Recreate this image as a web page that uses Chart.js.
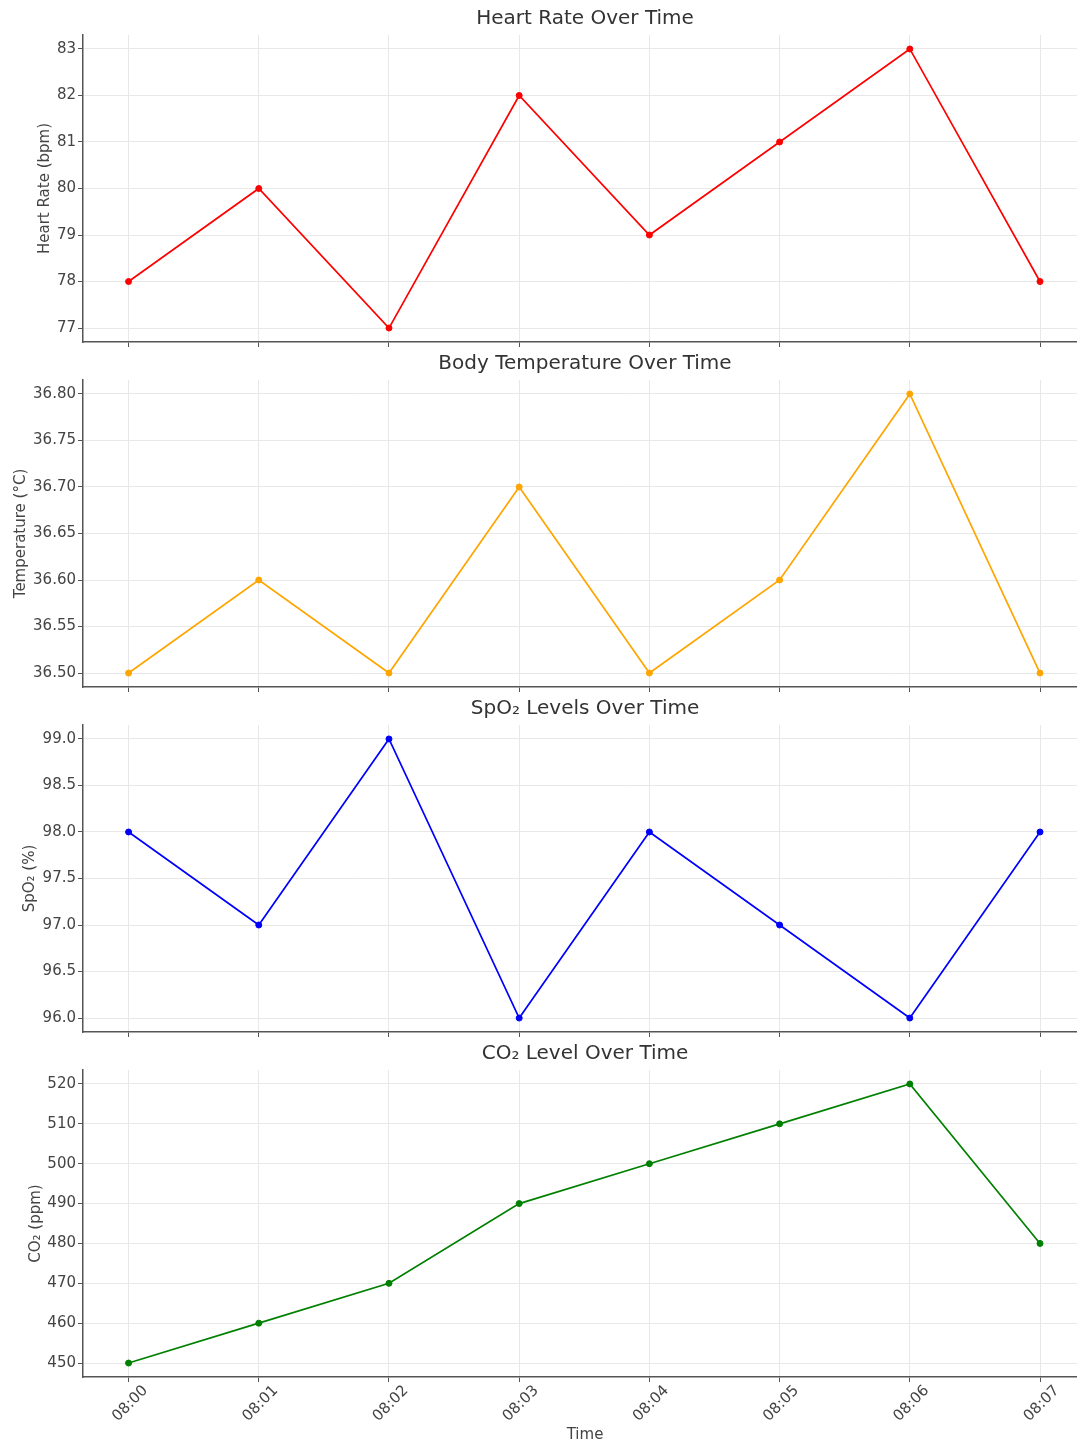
<!DOCTYPE html>
<html>
<head>
<meta charset="utf-8">
<title>Vitals Over Time</title>
<script src="https://cdn.jsdelivr.net/npm/chart.js@4.4.1/dist/chart.umd.min.js"></script>
<style>
    body { margin: 0; background: #fff; overflow: hidden; width: 1077px; height: 1443px; position: relative; }
    canvas { position: absolute; left: 0; }
</style>
</head>
<body>
<canvas id="hrChart" width="1170" height="348" style="top:0px"></canvas>
<canvas id="tempChart" width="1170" height="348" style="top:345px"></canvas>
<canvas id="spo2Chart" width="1170" height="348" style="top:690px"></canvas>
<canvas id="co2Chart" width="1170" height="408" style="top:1035px"></canvas>
<script>
// Data
const times = ['08:00', '08:01', '08:02', '08:03', '08:04', '08:05', '08:06', '08:07'];
const heartRate = [78, 80, 77, 82, 79, 81, 83, 78];
const temperature = [36.5, 36.6, 36.5, 36.7, 36.5, 36.6, 36.8, 36.5];
const spo2 = [98, 97, 99, 96, 98, 97, 96, 98];
const co2 = [450, 460, 470, 490, 500, 510, 520, 480];

// Tick labels on the y axes
const hrTicks = [77, 78, 79, 80, 81, 82, 83];
const tempTicks = [36.50, 36.55, 36.60, 36.65, 36.70, 36.75, 36.80];
const spo2Ticks = [96.0, 96.5, 97.0, 97.5, 98.0, 98.5, 99.0];
const co2Ticks = [450, 460, 470, 480, 490, 500, 510, 520];

Chart.defaults.font.family = "'DejaVu Sans', sans-serif";
Chart.defaults.color = '#444';

const GRID = '#e8e8e8';
const SPINE = '#555';

function makeChart(id, cfg) {
    const ctx = document.getElementById(id).getContext('2d');
    const span = cfg.yMax - cfg.yMin;
    const pad = span * 0.05;

    return new Chart(ctx, {
        type: 'line',
        data: {
            datasets: [{
                data: cfg.values.map((v, i) => ({ x: i, y: v })),
                borderColor: cfg.color,
                backgroundColor: cfg.color,
                pointBackgroundColor: cfg.color,
                pointBorderColor: cfg.color,
                pointRadius: 3,
                pointBorderWidth: 1,
                borderWidth: 1.7,
                tension: 0,
                fill: false
            }]
        },
        options: {
            responsive: false,
            animation: false,
            layout: { padding: 0 },
            plugins: {
                legend: { display: false },
                tooltip: { enabled: false },
                title: {
                    display: true,
                    text: cfg.title,
                    color: '#333',
                    font: { size: 20, weight: 'normal', lineHeight: 1.2 },
                    padding: { top: 7, bottom: 4 }
                },
                subtitle: {
                    display: !!cfg.xTitle,
                    text: cfg.xTitle || '',
                    position: 'bottom',
                    color: '#444',
                    font: { size: 15, lineHeight: 1 },
                    padding: 0
                }
            },
            scales: {
                x: {
                    type: 'linear',
                    min: -0.35,
                    max: 7.96,
                    afterBuildTicks: axis => {
                        axis.ticks = times.map((t, i) => ({ value: i }));
                    },
                    afterFit: scale => {
                        scale.height = cfg.xHeight;
                        scale.paddingLeft = 0;
                        scale.paddingRight = 0;
                    },
                    ticks: {
                        display: cfg.showX,
                        autoSkip: false,
                        minRotation: 45,
                        maxRotation: 45,
                        labelOffset: 17,
                        padding: 0,
                        font: { size: 15 },
                        callback: v => times[v]
                    },
                    grid: { color: GRID, tickColor: SPINE, tickLength: 5, drawTicks: true },
                    border: { color: SPINE, width: 1.5 }
                },
                y: {
                    min: cfg.yMin - pad,
                    max: cfg.yMax + pad,
                    afterBuildTicks: axis => {
                        axis.ticks = cfg.ticks.map(v => ({ value: v }));
                    },
                    afterFit: scale => {
                        scale.width = 83;
                        scale.paddingTop = 0;
                        scale.paddingBottom = 0;
                    },
                    ticks: {
                        padding: 2,
                        font: { size: 15 },
                        callback: v => v.toFixed(cfg.decimals)
                    },
                    title: {
                        display: true,
                        text: cfg.yTitle,
                        color: '#444',
                        font: { size: 15, lineHeight: 1.2 },
                        padding: { top: cfg.yTitlePad, bottom: 0 }
                    },
                    grid: { color: GRID, tickColor: SPINE, tickLength: 5, drawTicks: true },
                    border: { color: SPINE, width: 1.5 }
                }
            }
        }
    });
}

window.onload = () => {
    makeChart('hrChart', {
        title: 'Heart Rate Over Time', yTitle: 'Heart Rate (bpm)', yTitlePad: 36,
        values: heartRate, ticks: hrTicks, yMin: 77, yMax: 83, decimals: 0,
        color: '#ff0000', showX: false, xHeight: 6
    });
    makeChart('tempChart', {
        title: 'Body Temperature Over Time', yTitle: 'Temperature (°C)', yTitlePad: 12,
        values: temperature, ticks: tempTicks, yMin: 36.5, yMax: 36.8, decimals: 2,
        color: '#ffa500', showX: false, xHeight: 6
    });
    makeChart('spo2Chart', {
        title: 'SpO₂ Levels Over Time', yTitle: 'SpO₂ (%)', yTitlePad: 21,
        values: spo2, ticks: spo2Ticks, yMin: 96, yMax: 99, decimals: 1,
        color: '#0000ff', showX: false, xHeight: 6
    });
    makeChart('co2Chart', {
        title: 'CO₂ Level Over Time', yTitle: 'CO₂ (ppm)', yTitlePad: 27,
        values: co2, ticks: co2Ticks, yMin: 450, yMax: 520, decimals: 0,
        color: '#008000', showX: true, xHeight: 51, xTitle: 'Time'
    });
};
</script>
</body>
</html>
